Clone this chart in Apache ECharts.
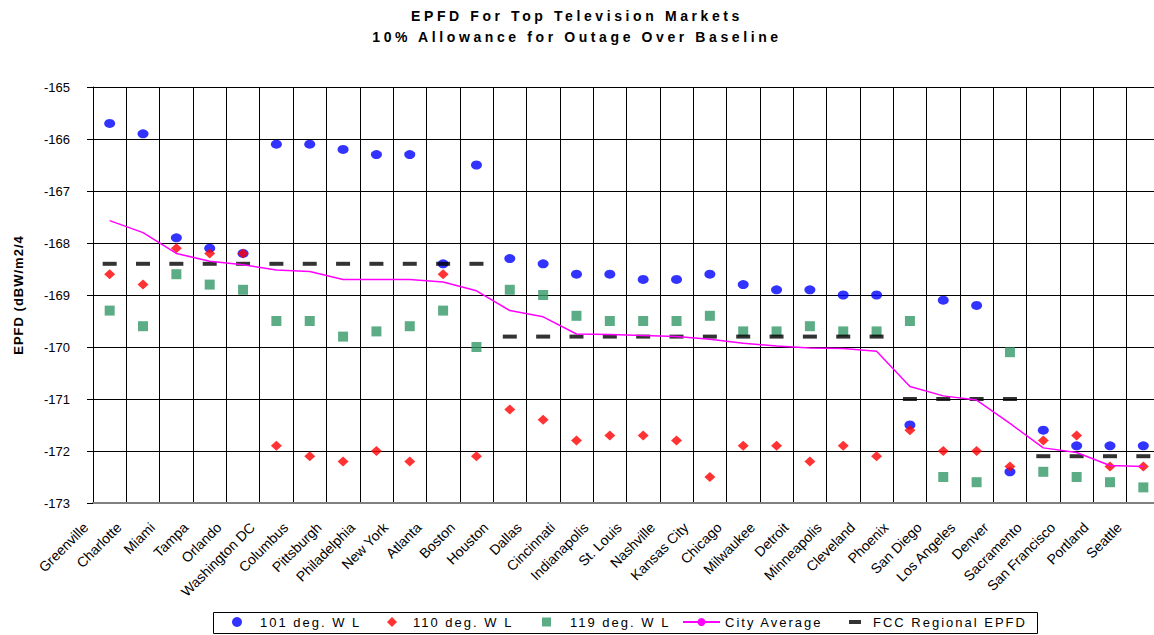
<!DOCTYPE html>
<html>
<head>
<meta charset="utf-8">
<script src="https://cdn.jsdelivr.net/npm/echarts@6.0.0/dist/echarts.min.js"></script>
<style>
  body { margin: 0; background: #fff; }
  #chart-panel { width: 1154px; height: 635px; }
</style>
</head>
<body>
<div id="chart-panel"></div>
<script>
const cities = [
  "Greenville", "Charlotte", "Miami", "Tampa", "Orlando", "Washington DC",
  "Columbus", "Pittsburgh", "Philadelphia", "New York", "Atlanta", "Boston",
  "Houston", "Dallas", "Cincinnati", "Indianapolis", "St. Louis", "Nashville",
  "Kansas City", "Chicago", "Milwaukee", "Detroit", "Minneapolis", "Cleveland",
  "Phoenix", "San Diego", "Los Angeles", "Denver", "Sacramento", "San Francisco",
  "Portland", "Seattle"
]
const deg101 = [-165.7, -165.9, -167.9, -168.1, -168.2, -166.1, -166.1, -166.2, -166.3, -166.3, -168.4, -166.5,
  -168.3, -168.4, -168.6, -168.6, -168.7, -168.7, -168.6, -168.8, -168.9, -168.9, -169.0, -169.0,
  -171.5, -169.1, -169.2, -172.4, -171.6, -171.9, -171.9, -171.9]
const deg110 = [-168.6, -168.8, -168.1, -168.2, -168.2, -171.9, -172.1, -172.2, -172.0, -172.2, -168.6, -172.1,
  -171.2, -171.4, -171.8, -171.7, -171.7, -171.8, -172.5, -171.9, -171.9, -172.2, -171.9, -172.1,
  -171.6, -172.0, -172.0, -172.3, -171.8, -171.7, -172.3, -172.3]
const deg119 = [-169.3, -169.6, -168.6, -168.8, -168.9, -169.5, -169.5, -169.8, -169.7, -169.6, -169.3, -170.0,
  -168.9, -169.0, -169.4, -169.5, -169.5, -169.5, -169.4, -169.7, -169.7, -169.6, -169.7, -169.7,
  -169.5, -172.5, -172.6, -170.1, -172.4, -172.5, -172.6, -172.7]
const cityAverage = [-167.57, -167.8, -168.2, -168.35, -168.42, -168.52, -168.55, -168.7, -168.7, -168.7, -168.75, -168.92,
  -169.3, -169.42, -169.75, -169.76, -169.78, -169.8, -169.85, -169.93, -169.98, -170.02, -170.03, -170.08,
  -170.76, -170.94, -171.02, -171.47, -171.94, -172.03, -172.28, -172.3]
const fccRegional = [-168.4, -168.4, -168.4, -168.4, -168.4, -168.4, -168.4, -168.4, -168.4, -168.4, -168.4, -168.4,
  -169.8, -169.8, -169.8, -169.8, -169.8, -169.8, -169.8, -169.8, -169.8, -169.8, -169.8, -169.8,
  -171.0, -171.0, -171.0, -171.0, -172.1, -172.1, -172.1, -172.1]

const titleLines = ["EPFD For Top Television Markets", "10% Allowance for Outage Over Baseline"]
const names = ["101 deg. W L", "110 deg. W L", "119 deg. W L", "City Average", "FCC Regional EPFD"]
const yName = "EPFD (dBW/m2/4"
const font = "Liberation Sans"

const chart = echarts.init(document.getElementById("chart-panel"), null, { renderer: "svg" })

// excel spaces the title and legend letters out, svg text can do that
const spaceText = () => {
  chart.getDom().querySelectorAll("text").forEach((t) => {
    const s = t.textContent
    if (titleLines.includes(s)) t.style.letterSpacing = "3.6px"
    else if (names.includes(s)) t.style.letterSpacing = "2px"
    else if (s === yName) t.style.letterSpacing = "1px"
  })
}
chart.on("finished", spaceText)

const scatter = (name, data, symbol, size, color) => ({
  name,
  type: "scatter",
  data,
  symbol,
  symbolSize: size,
  itemStyle: { color }
})

const legendItem = (name, left, w, h, padLeft, extra) => ({
  data: [name],
  left,
  top: 615.5,
  padding: 0,
  itemWidth: w,
  itemHeight: h,
  selectedMode: false,
  textStyle: { fontFamily: font, fontSize: 13, color: "#000", padding: [0, 0, 0, padLeft] },
  ...extra
})

const options = {
  animation: false,
  textStyle: { fontFamily: font },
  title: {
    text: titleLines.join("\n"),
    left: "center",
    top: 5,
    padding: [0, 0, 0, 20],
    textStyle: { fontFamily: font, fontSize: 14, fontWeight: "bold", color: "#000", lineHeight: 21 }
  },
  grid: {
    left: 93,
    right: -6,
    top: 87,
    bottom: 132,
    outerBoundsMode: "none"
  },
  legend: [
    legendItem(names[0], 232, 10, 10, 13),
    legendItem(names[1], 387, 10, 10, 11),
    legendItem(names[2], 542, 9, 9, 14),
    legendItem(names[3], 682, 37, 10, 0),
    legendItem(names[4], 849, 12, 4, 7, { symbolKeepAspect: false })
  ],
  graphic: [
    {
      type: "rect",
      shape: { x: 213.5, y: 612.5, width: 824, height: 21 },
      style: { fill: "#fff", stroke: "#000", lineWidth: 1 },
      z: -1
    }
  ],
  xAxis: {
    type: "category",
    data: cities,
    axisLine: { show: true, lineStyle: { color: "#808080", width: 2 } },
    axisTick: { show: false },
    axisLabel: {
      interval: 0,
      rotate: 45,
      margin: -2,
      padding: [0, 34, 0, 0],
      fontFamily: font,
      fontSize: 14,
      color: "#000"
    },
    splitLine: { show: true, interval: 0, lineStyle: { color: "#000", width: 1 } }
  },
  yAxis: {
    type: "value",
    min: -173,
    max: -165,
    interval: 1,
    name: yName,
    nameLocation: "middle",
    nameRotate: 90,
    nameGap: 68,
    nameTextStyle: { fontFamily: font, fontSize: 13, fontWeight: "bold", color: "#000" },
    axisLine: { show: true, lineStyle: { color: "#000", width: 1 } },
    axisTick: { show: true, length: 6, lineStyle: { color: "#000" } },
    axisLabel: { margin: 23, fontFamily: font, fontSize: 13, color: "#000" },
    splitLine: { show: true, lineStyle: { color: "#000", width: 1 } }
  },
  series: [
    scatter(names[0], deg101, "circle", [11, 9], "#0000ff"),
    scatter(names[1], deg110, "diamond", [11, 10], "#ff0000"),
    scatter(names[2], deg119, "rect", [10, 10], "#339966"),
    {
      name: names[3],
      type: "line",
      data: cityAverage,
      symbol: "none",
      lineStyle: { color: "#ff00ff", width: 1.5 },
      itemStyle: { color: "#ff00ff" }
    },
    scatter(names[4], fccRegional, "rect", [14, 4], "#000")
  ]
}
chart.setOption(options)
spaceText()
</script>
</body>
</html>
